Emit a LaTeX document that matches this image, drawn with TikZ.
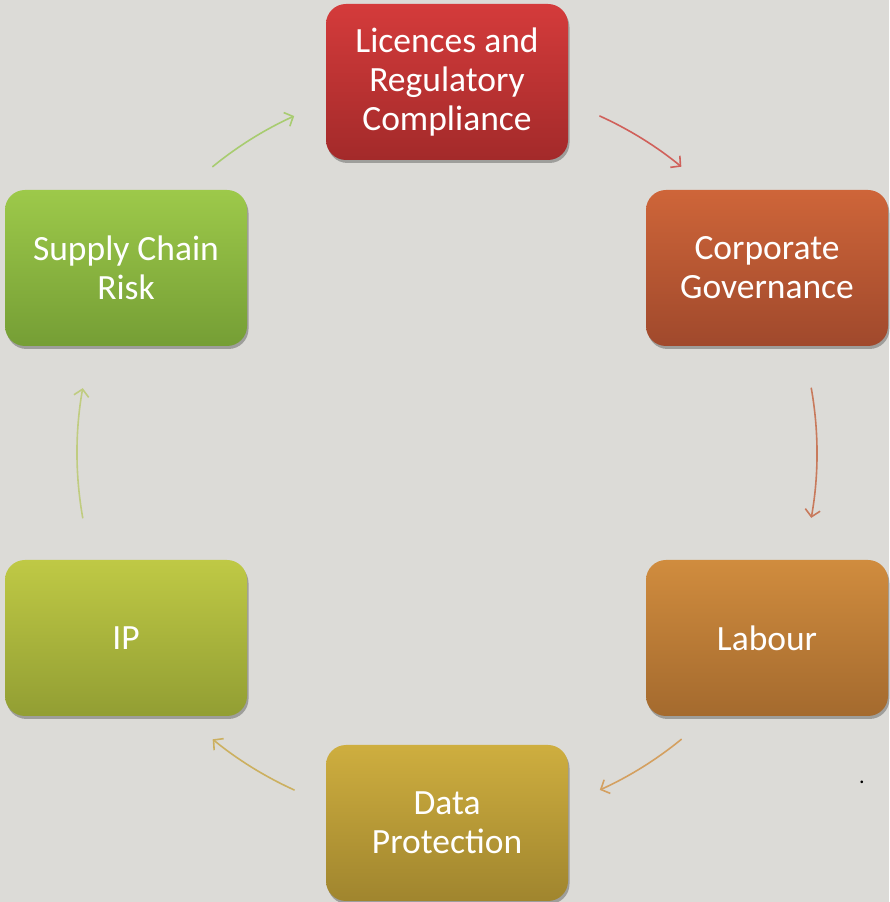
\documentclass[tikz,border=0pt]{standalone}
\usepackage{fontspec}
\setmainfont{Carlito}
\usetikzlibrary{arrows.meta,shadows,calc}
\definecolor{bg}{HTML}{DCDBD7}
\tikzset{
  x=1pt,y=1pt,
  box/.style={rounded corners=20pt, minimum width=242pt, minimum height=156pt,
    align=center, text=white, font=\fontsize{35.5}{39}\selectfont,
    drop shadow={shadow xshift=1.5pt, shadow yshift=-3pt, opacity=0.28, fill=black}},
  cyc/.style={line width=1.6pt, line cap=round,
    -{Straight Barb[length=7pt,width=15pt,line width=1.6pt]}},
}
\begin{document}
\begin{tikzpicture}
\fill[bg] (0,0) rectangle (889,902);
\useasboundingbox (0,0) rectangle (889,902);
\coordinate (c) at (447,449);
\node[box, top color={rgb,255:red,212;green,59;blue,59}, bottom color={rgb,255:red,163;green,42;blue,42}] (lic) at (447,820) {Licences and\\Regulatory\\Compliance};
\node[box, top color={rgb,255:red,206;green,101;blue,57}, bottom color={rgb,255:red,160;green,73;blue,44}] (cor) at (767,634) {Corporate\\Governance};
\node[box, top color={rgb,255:red,208;green,140;blue,62}, bottom color={rgb,255:red,164;green,106;blue,46}] (lab) at (767,264) {Labour};
\node[box, top color={rgb,255:red,206;green,174;blue,63}, bottom color={rgb,255:red,160;green,133;blue,46}] (dat) at (447,79) {Data\\Protection};
\node[box, top color={rgb,255:red,191;green,201;blue,69}, bottom color={rgb,255:red,146;green,158;blue,51}] (ip) at (126,264) {IP};
\node[box, top color={rgb,255:red,157;green,201;blue,74}, bottom color={rgb,255:red,117;green,158;blue,53}] (sup) at (126,634) {Supply Chain\\Risk};
\node[font=\fontsize{22}{22}\selectfont, inner sep=0pt, anchor=base] (dot) at (862,118) {.};
% arrow start points on the circle
\coordinate (a1) at ($(c)+(65.6:370)$);
\coordinate (a2) at ($(c)+(10.1:370)$);
\coordinate (a3) at ($(c)+(-50.7:370)$);
\coordinate (a4) at ($(c)+(-114.4:370)$);
\coordinate (a5) at ($(c)+(190.1:370)$);
\coordinate (a6) at ($(c)+(129.3:370)$);
\draw[cyc, color={rgb,255:red,208;green,96;blue,90}] (a1) arc[start angle=65.6, end angle=50.7, radius=370];
\draw[cyc, color={rgb,255:red,200;green,122;blue,92}] (a2) arc[start angle=10.1, end angle=-10.1, radius=370];
\draw[cyc, color={rgb,255:red,212;green,160;blue,96}] (a3) arc[start angle=-50.7, end angle=-65.6, radius=370];
\draw[cyc, color={rgb,255:red,204;green,176;blue,96}] (a4) arc[start angle=-114.4, end angle=-129.3, radius=370];
\draw[cyc, color={rgb,255:red,192;green,204;blue,128}] (a5) arc[start angle=190.1, end angle=169.9, radius=370];
\draw[cyc, color={rgb,255:red,168;green,204;blue,112}] (a6) arc[start angle=129.3, end angle=114.4, radius=370];
\end{tikzpicture}
\end{document}
